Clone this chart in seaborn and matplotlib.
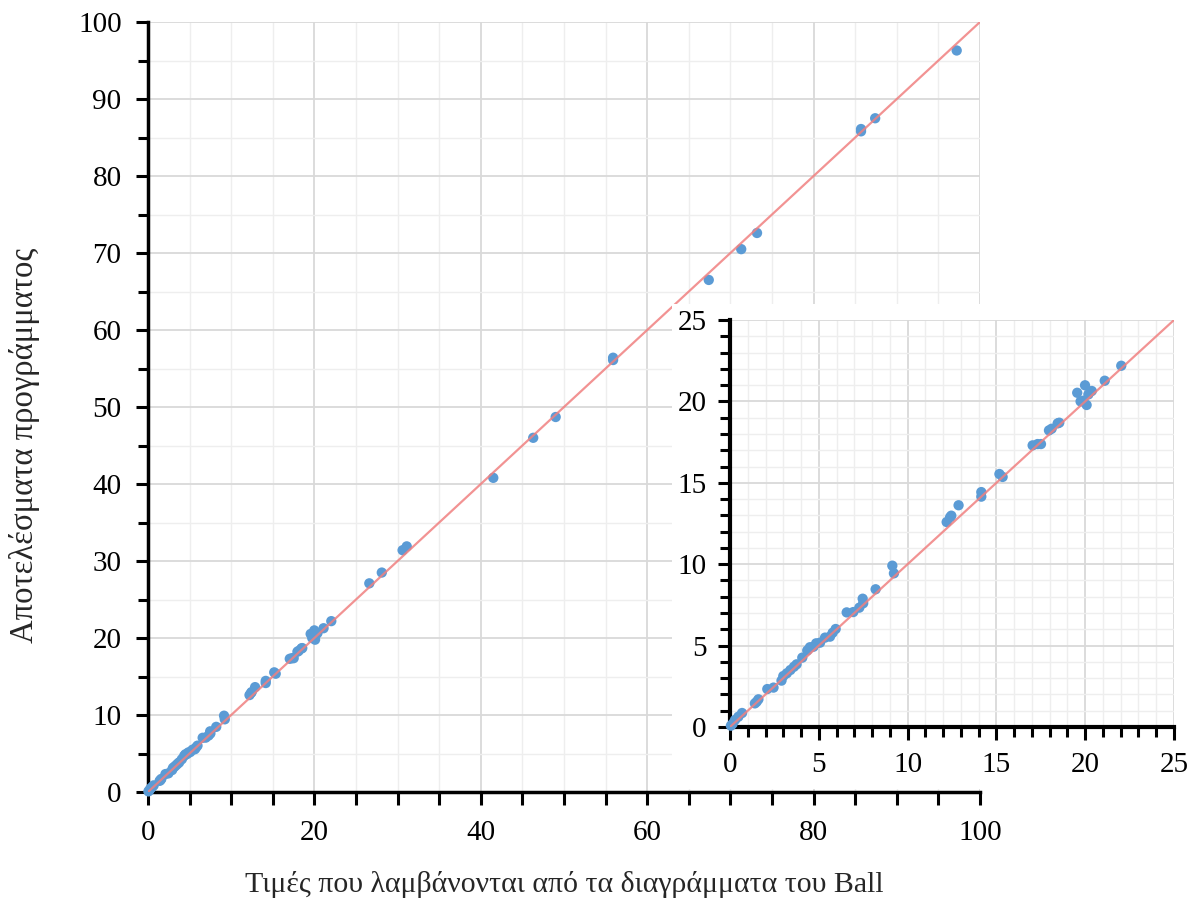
import numpy as np
import pandas as pd
import matplotlib.pyplot as plt
import seaborn as sns
from matplotlib.patches import Rectangle
from matplotlib.ticker import MultipleLocator

# values: Ball diagrams (x) vs program results (y)
ball_values = [
    0.05, 0.15, 0.28, 0.47, 0.68, 1.40, 1.50, 1.60, 2.10, 2.45,
    2.90, 3.00, 3.20, 3.40, 3.60, 3.75, 4.07, 4.35, 4.50, 4.70,
    4.85, 5.07, 5.35, 5.63, 5.78, 5.95, 6.57, 6.94, 7.28, 7.50,
    7.47, 8.20, 9.14, 9.23, 12.20, 12.39, 12.46, 12.87, 14.15, 14.15,
    15.17, 15.35, 17.04, 17.32, 17.51, 17.96, 18.11, 18.45, 18.54, 19.55,
    19.74, 19.89, 20.08, 20.18, 20.37, 19.99, 21.10, 22.03,
    26.6, 28.1, 30.6, 31.1, 41.5, 46.3, 49.0, 55.9, 55.9, 67.4,
    71.3, 73.2, 85.7, 85.7, 87.4, 97.2,
]
program_values = [
    0.08, 0.20, 0.43, 0.63, 0.86, 1.45, 1.55, 1.70, 2.33, 2.42,
    2.85, 3.13, 3.30, 3.50, 3.70, 3.85, 4.26, 4.70, 4.90, 4.93,
    5.14, 5.18, 5.49, 5.55, 5.79, 6.02, 7.04, 7.06, 7.33, 7.60,
    7.88, 8.46, 9.91, 9.44, 12.59, 12.88, 12.98, 13.62, 14.15, 14.43,
    15.54, 15.36, 17.30, 17.38, 17.38, 18.22, 18.32, 18.65, 18.69, 20.53,
    20.00, 20.04, 19.78, 20.43, 20.64, 20.99, 21.27, 22.19,
    27.1, 28.5, 31.4, 31.9, 40.8, 46.0, 48.7, 56.4, 56.1, 66.5,
    70.5, 72.6, 86.1, 85.8, 87.5, 96.3,
]
ref_line = [0, 100]

main_ticks_x = [0, 20, 40, 60, 80, 100]
main_ticks_y = [0, 10, 20, 30, 40, 50, 60, 70, 80, 90, 100]
inset_ticks = [0, 5, 10, 15, 20, 25]

x_label = "Τιμές που λαμβάνονται από τα διαγράμματα του Ball"
y_label = "Αποτελέσματα προγράμματος"

df = pd.DataFrame({'ball': ball_values, 'program': program_values})

sns.set_theme(style='white')
plt.rcParams['font.family'] = ['Liberation Serif', 'DejaVu Serif']

W, H = 1194, 906
fig = plt.figure(figsize=(W / 100, H / 100), dpi=100)

point_color = '#5b9bd5'
line_color = '#f08080'
major_grid = '#d9d9d9'
minor_grid = '#eeeeee'


def style_axes(ax, lim, minor_x, minor_y):
    ax.set_xlim(0, lim)
    ax.set_ylim(0, lim)
    ax.set_facecolor('white')
    for side in ['top', 'right']:
        ax.spines[side].set_visible(False)
    for side in ['left', 'bottom']:
        ax.spines[side].set_color('black')
        ax.spines[side].set_linewidth(2.5)
    ax.xaxis.set_minor_locator(MultipleLocator(minor_x))
    ax.yaxis.set_minor_locator(MultipleLocator(minor_y))
    ax.grid(True, which='major', color=major_grid, linewidth=1.3)
    ax.grid(True, which='minor', color=minor_grid, linewidth=1.0)
    ax.tick_params(which='both', direction='out', colors='black',
                   labelsize=21, width=2.2, bottom=True, left=True)
    ax.tick_params(which='major', length=9)
    ax.tick_params(which='minor', length=7)
    ax.set_axisbelow(True)
    ax.set_xlabel('')
    ax.set_ylabel('')


# main chart
ax = fig.add_axes([148 / W, 1 - 792 / H, 832 / W, 770 / H], zorder=0)
sns.scatterplot(data=df, x='ball', y='program', ax=ax, color=point_color,
                s=55, edgecolor='none', zorder=3, clip_on=False)
sns.lineplot(x=ref_line, y=ref_line, ax=ax, color=line_color,
             linewidth=1.6, alpha=0.85, zorder=4)
style_axes(ax, 100, 5, 5)
ax.set_xticks(main_ticks_x)
ax.set_yticks(main_ticks_y)
ax.tick_params(axis='x', which='minor', length=9)
ax.tick_params(axis='x', pad=11)
ax.tick_params(axis='y', pad=10)

# white panel behind the inset
fig.add_artist(Rectangle((672 / W, 1 - 789 / H), (W - 672) / W, (789 - 304) / H,
                         transform=fig.transFigure, facecolor='white',
                         edgecolor='none', zorder=1))

# inset (zoom on 0-25)
ins = fig.add_axes([730 / W, 1 - 727 / H, 444 / W, 407 / H], zorder=2)
sns.scatterplot(data=df, x='ball', y='program', ax=ins, color=point_color,
                s=55, edgecolor='none', zorder=3, clip_on=False)
sns.lineplot(x=ref_line, y=ref_line, ax=ins, color=line_color,
             linewidth=1.6, alpha=0.85, zorder=4)
style_axes(ins, 25, 1, 1)
ins.set_xticks(inset_ticks)
ins.set_yticks(inset_ticks)
ins.spines['left'].set_linewidth(3)
ins.spines['bottom'].set_linewidth(3)
ins.tick_params(axis='x', pad=9)
ins.tick_params(axis='y', pad=8)

fig.text(564 / W, 1 - 885 / H, x_label, ha='center', va='center', fontsize=21.5)
fig.text(25 / W, 1 - 445 / H, y_label, ha='center', va='center',
         rotation=90, fontsize=23.5)

fig.savefig('out.png', dpi=100)
